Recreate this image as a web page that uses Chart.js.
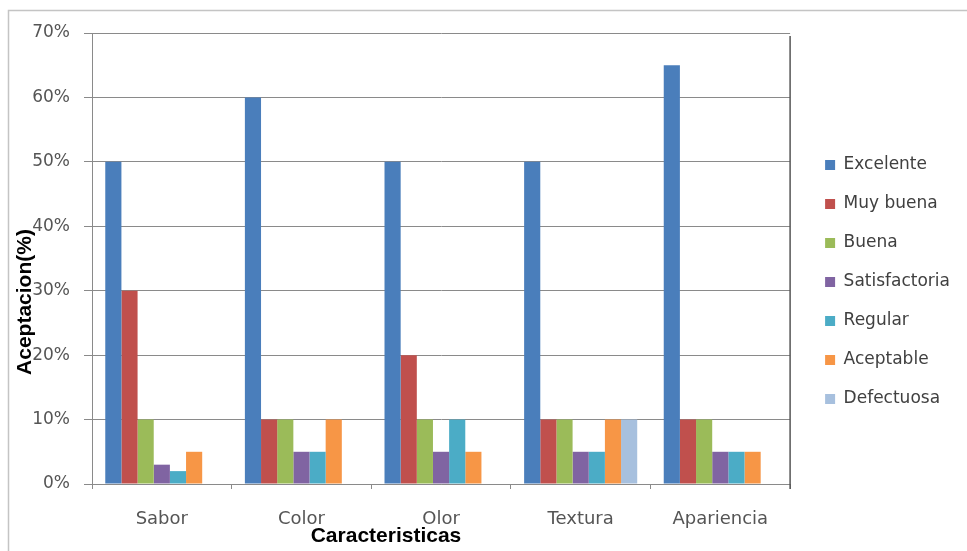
<!DOCTYPE html>
<html>
<head>
<meta charset="utf-8">
<script src="https://cdn.jsdelivr.net/npm/chart.js@4"></script>
<style>
html,body{margin:0;padding:0;background:#fff}
#wrap{width:967px;height:551px;position:relative}
</style>
</head>
<body>
<div id="wrap"><canvas id="chart"></canvas></div>
<script>
const categorias=["Sabor","Color","Olor","Textura","Apariencia"]
const yTicks=[0,10,20,30,40,50,60,70]

const excelente=[50,60,50,50,65]
const muyBuena=[30,10,20,10,10]
const buena=[10,10,10,10,10]
const satisfactoria=[3,5,5,5,5]
const regular=[2,5,10,5,5]
const aceptable=[5,10,5,10,5]
const defectuosa=[0,0,0,10,0]

const tickColor="#555555"
const gridColor="#8a8a8a"

// outer frame + plot border + axis titles
const extras={
id:"extras",
beforeDraw(chart){
const c=chart.ctx
c.save()
c.fillStyle="#fff"
c.fillRect(0,0,chart.width,chart.height)
c.strokeStyle="#c4c4c4"
c.lineWidth=1.5
c.strokeRect(8.5,10.5,chart.width+10,chart.height+10)
c.restore()
},
afterDraw(chart){
const c=chart.ctx
const a=chart.chartArea
c.save()
c.strokeStyle="#555"
c.lineWidth=1.5
c.beginPath()
c.moveTo(a.right,a.top+3)
c.lineTo(a.right,a.bottom+5)
c.stroke()
c.fillStyle="#000"
c.font="bold 21px 'Liberation Sans Narrow','Liberation Sans',sans-serif"
c.textAlign="center"
c.textBaseline="middle"
c.fillText("Caracteristicas",386,536)
c.translate(25,302)
c.rotate(-Math.PI/2)
c.fillText("Aceptacion(%)",0,0)
c.restore()
}
}

const series=[
["Excelente",excelente,"#4a7ebb"],
["Muy buena",muyBuena,"#c0504d"],
["Buena",buena,"#9bbb59"],
["Satisfactoria",satisfactoria,"#8064a2"],
["Regular",regular,"#4bacc6"],
["Aceptable",aceptable,"#f79646"],
["Defectuosa",defectuosa,"#a7c0de"]
]

new Chart(document.getElementById("chart"),{
type:"bar",
data:{
labels:categorias,
datasets:series.map(s=>({
label:s[0],
data:s[1],
backgroundColor:s[2],
borderWidth:0,
categoryPercentage:0.81,
barPercentage:1
}))
},
options:{
responsive:true,
maintainAspectRatio:false,
animation:false,
devicePixelRatio:1,
layout:{padding:{top:33,bottom:20,left:0,right:7}},
plugins:{
tooltip:{enabled:false},
legend:{
position:"right",
maxWidth:165,
labels:{
boxWidth:10,
boxHeight:10,
padding:22,
color:"#404040",
font:{family:"DejaVu Sans",size:17}
}
}
},
scales:{
x:{
grid:{drawOnChartArea:false,drawTicks:true,tickLength:5,color:gridColor,offset:true},
border:{color:gridColor,width:1},
ticks:{color:tickColor,font:{family:"DejaVu Sans",size:18},padding:20},
afterFit(s){s.height=47}
},
y:{
min:0,max:70,
afterBuildTicks(s){s.ticks=yTicks.map(v=>({value:v}))},
grid:{color:gridColor,tickLength:8},
border:{color:gridColor,width:1},
ticks:{color:tickColor,font:{family:"DejaVu Sans",size:17},padding:14,callback:v=>v+"%"},
afterFit(s){s.width=92}
},
y2:{
position:"right",
display:true,
grid:{drawOnChartArea:false,drawTicks:false},
border:{display:false},
ticks:{display:false},
afterFit(s){s.width=13}
}
}
},
plugins:[extras]
})
</script>
</body>
</html>
